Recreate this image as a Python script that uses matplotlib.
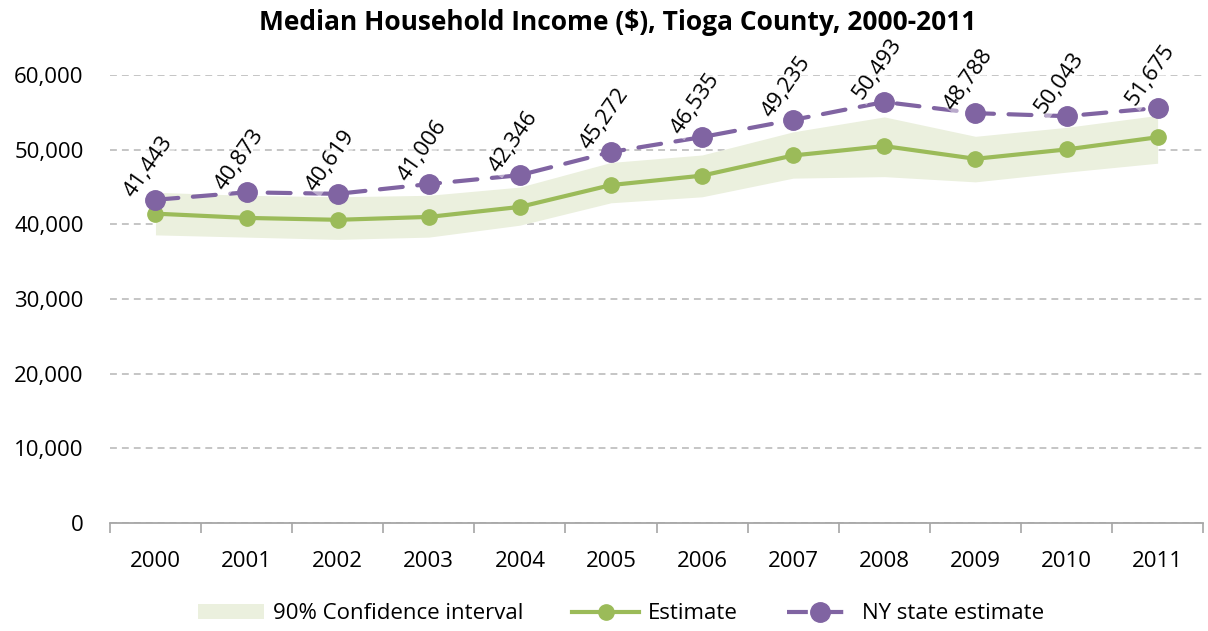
import numpy as np
import matplotlib
matplotlib.use("Agg")
import matplotlib.pyplot as plt
from matplotlib.patches import Patch
from matplotlib.lines import Line2D

plt.rcParams['font.family'] = ['Open Sans', 'DejaVu Sans']

# data
years = ['2000', '2001', '2002', '2003', '2004', '2005',
         '2006', '2007', '2008', '2009', '2010', '2011']
estimate = [41443, 40873, 40619, 41006, 42346, 45272,
            46535, 49235, 50493, 48788, 50043, 51675]
ci_low = [38600, 38300, 38000, 38300, 39900, 42900,
          43700, 46200, 46400, 45700, 47000, 48200]
ci_high = [44300, 43900, 43700, 43900, 45000, 48300,
           49300, 52400, 54400, 51800, 53000, 54600]
ny_state = [43300, 44300, 44100, 45400, 46600, 49700,
            51700, 54000, 56400, 54900, 54500, 55600]

GREEN = '#9BBB59'
PURPLE = '#8064A2'
BAND = '#EBF0DE'
FS = 16

fig = plt.figure(figsize=(12.08, 6.31), dpi=100)
ax = fig.add_axes([0.091, 0.171, 0.905, 0.71])

x = np.arange(len(years))

ax.fill_between(x, ci_low, ci_high, color=BAND, lw=0, zorder=1)
ax.plot(x, estimate, color=GREEN, lw=3.0, marker='o', ms=11,
        solid_capstyle='round', zorder=3)
ax.plot(x, ny_state, color=PURPLE, lw=3.0, dashes=(5.5, 3.5), dash_capstyle='round',
        marker='o', ms=14, zorder=4)

# value labels (Estimate) sit on the NY markers, rotated
for xi, yv, lab in zip(x, ny_state, estimate):
    ax.annotate(f'{lab:,}', (xi, yv), xytext=(-13, -1), textcoords='offset points',
                rotation=55, rotation_mode='anchor', ha='left', va='bottom',
                fontsize=FS, color='black', zorder=5, annotation_clip=False,
                bbox=dict(facecolor='white', alpha=0.45, edgecolor='none', pad=1))

ax.set_xlim(-0.5, 11.5)
ax.set_ylim(0, 60000)
ax.set_yticks(np.arange(0, 60001, 10000))
ax.set_yticklabels([f'{v:,}' for v in range(0, 60001, 10000)], fontsize=FS)
ax.yaxis.grid(True, color='#C0C0C0', ls=(0, (3.8, 2.8)), lw=1.3)
ax.set_axisbelow(True)

ax.set_xticks(x)
ax.set_xticklabels(years, fontsize=FS)
ax.tick_params(axis='x', length=0, pad=20)
ax.set_xticks(np.arange(-0.5, 12, 1), minor=True)
ax.tick_params(axis='x', which='minor', length=7, color='#A6A6A6', width=1.2)
ax.tick_params(axis='y', length=0, pad=19)

for s in ['top', 'right', 'left']:
    ax.spines[s].set_visible(False)
ax.spines['bottom'].set_color('#A6A6A6')
ax.spines['bottom'].set_linewidth(1.3)

fig.text(0.511, 0.965, 'Median Household Income ($), Tioga County, 2000-2011',
         fontsize=19, fontweight='bold', ha='center', va='center')

handles = [
    Patch(facecolor=BAND, edgecolor='none', label='90% Confidence interval'),
    Line2D([], [], color=GREEN, lw=3.0, marker='o', ms=11, label='Estimate'),
    Line2D([], [], color=PURPLE, lw=3.0, dashes=(5, 3.5), marker='o', ms=14,
           label='NY state estimate'),
]
fig.legend(handles=handles, loc='center', bbox_to_anchor=(0.514, 0.027),
           ncol=3, frameon=False, fontsize=FS, handlelength=3.0,
           handletextpad=0.4, columnspacing=2.2, borderpad=0)

plt.savefig('out.png', dpi=100)
